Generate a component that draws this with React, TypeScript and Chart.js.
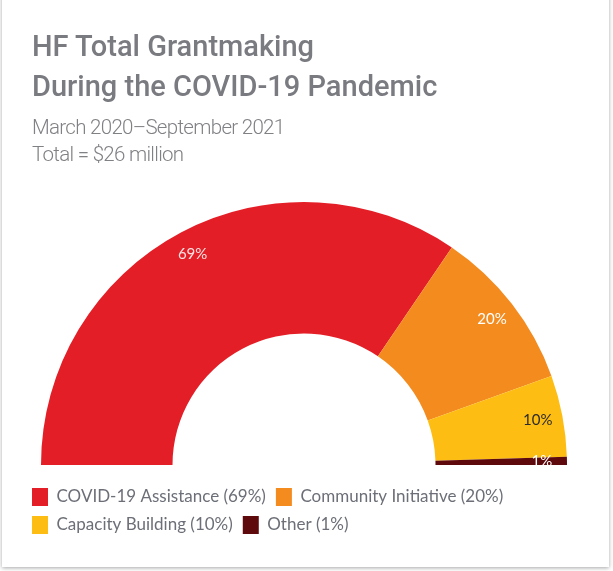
import React, { useEffect, useRef } from "react";
import { Chart, registerables } from "chart.js";

Chart.register(...registerables);

const TITLE_LINES = ["HF Total Grantmaking", "During the COVID-19 Pandemic"];
const SUBTITLE_LINES = ["March 2020–September 2021", "Total = $26 million"];
const CATEGORIES = ["COVID-19 Assistance", "Community Initiative", "Capacity Building", "Other"];
const VALUES = [69, 20, 10, 1];
const COLORS = ["#E41E26", "#F48B1F", "#FDBD12", "#5E090B"];
const LABEL_COLORS = ["#FBE3E3", "#FFFFFF", "#2B2B2B", "#FFFFFF"];

const labelPlugin = {
  id: "arcLabels",
  afterDatasetsDraw(chart: any) {
    const ctx = chart.ctx;
    const meta = chart.getDatasetMeta(0);
    ctx.save();
    ctx.font = "15px Lato";
    ctx.textAlign = "center";
    ctx.textBaseline = "middle";
    meta.data.forEach((arc: any, i: number) => {
      const { x, y, startAngle, endAngle, outerRadius, innerRadius } = arc.getProps(
        ["x", "y", "startAngle", "endAngle", "outerRadius", "innerRadius"],
        true
      );
      const mid = (startAngle + endAngle) / 2;
      const r = innerRadius + (outerRadius - innerRadius) * 0.81;
      ctx.fillStyle = LABEL_COLORS[i];
      ctx.fillText(VALUES[i] + "%", x + r * Math.cos(mid), y + r * Math.sin(mid));
    });
    ctx.restore();
  },
};

export default function App() {
  const ref = useRef<HTMLCanvasElement>(null);
  useEffect(() => {
    document.body.style.margin = "0";
    const chart = new Chart(ref.current!, {
      type: "doughnut",
      data: {
        labels: CATEGORIES.map((c, i) => `${c} (${VALUES[i]}%)`),
        datasets: [
          {
            data: VALUES,
            backgroundColor: COLORS,
            borderWidth: 0,
          },
        ],
      },
      options: {
        responsive: false,
        animation: false,
        rotation: -90,
        circumference: 180,
        cutout: "50%",
        radius: 263,
        layout: { padding: { left: 20, right: 23, top: 189, bottom: 23 } },
        plugins: {
          tooltip: { enabled: false },
          legend: {
            position: "bottom",
            align: "start",
            labels: {
              boxWidth: 16,
              boxHeight: 18,
              padding: 10,
              color: "#6C6F77",
              font: { family: "Lato", size: 17 },
            },
          },
        },
      },
      plugins: [labelPlugin],
    });
    return () => chart.destroy();
  }, []);

  return (
    <div style={{ position: "fixed", left: 0, top: 0, width: 613, height: 571, background: "#ffffff", overflow: "hidden" }}>
      <div
        style={{
          position: "absolute",
          left: 2,
          top: -20,
          width: 607,
          height: 587,
          background: "#ffffff",
          boxShadow: "0 1px 4px rgba(0,0,0,0.35)",
        }}
      />
      <canvas ref={ref} width={607} height={567} style={{ position: "absolute", left: 2, top: 0 }} />
      <div
        style={{
          position: "absolute",
          left: 32,
          top: 26,
          fontFamily: "Roboto",
          fontWeight: 500,
          fontSize: 29,
          lineHeight: "40px",
          color: "#7A7B80",
          whiteSpace: "nowrap",
        }}
      >
        {TITLE_LINES.map((t) => (
          <div key={t}>{t}</div>
        ))}
      </div>
      <div
        style={{
          position: "absolute",
          left: 32,
          top: 114,
          fontFamily: "Roboto",
          fontWeight: 300,
          fontSize: 20.5,
          letterSpacing: "-0.7px",
          lineHeight: "27px",
          color: "#808185",
          whiteSpace: "nowrap",
        }}
      >
        {SUBTITLE_LINES.map((t) => (
          <div key={t}>{t}</div>
        ))}
      </div>
    </div>
  );
}
